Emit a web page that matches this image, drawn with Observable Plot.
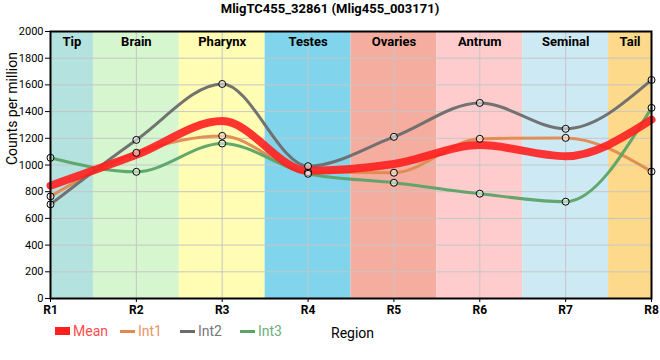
<!DOCTYPE html>
<html>
<head>
<meta charset="utf-8">
<script src="https://cdn.jsdelivr.net/npm/d3@7"></script>
<script src="https://cdn.jsdelivr.net/npm/@observablehq/plot@0.6"></script>
<style>
  html, body { margin: 0; padding: 0; background: #ffffff; }
  body { width: 660px; height: 360px; font-family: Roboto, "Liberation Sans", sans-serif; position: relative; overflow: hidden; }
  #title { height: 22px; line-height: 18px; text-align: center; font-weight: bold; font-size: 13px; color: #000; }
  #chart svg { display: block; }
  #legend { position: relative; height: 30px; font-size: 14px; }
  #legend span { position: absolute; top: 1px; white-space: nowrap; }
  .sw { position: absolute; }
</style>
</head>
<body>
<div id="title">MligTC455_32861 (Mlig455_003171)</div>
<div id="chart"></div>
<div id="legend"></div>
<script>
const regions = ["R1", "R2", "R3", "R4", "R5", "R6", "R7", "R8"];
const tissues = ["Tip", "Brain", "Pharynx", "Testes", "Ovaries", "Antrum", "Seminal", "Tail"];
const tissueColors = ["#b4e2de", "#d6f6cf", "#fefdb3", "#80d5ec", "#f5ada0", "#fecccd", "#cdeaf4", "#fdd98b"];
const meanVals = [845, 1076, 1329, 957, 1007, 1149, 1066, 1339];
const int1 = [765, 1091, 1218, 946, 942, 1196, 1203, 951];
const int2 = [705, 1188, 1607, 991, 1211, 1465, 1271, 1637];
const int3 = [1054, 949, 1161, 934, 867, 785, 725, 1428];
const yTicks = [0, 200, 400, 600, 800, 1000, 1200, 1400, 1600, 1800, 2000];

const seriesNames = ["Mean", "Int1", "Int2", "Int3"];
const seriesColors = ["#ff1f1f", "#e08a50", "#6b6b6b", "#5ba367"];
const legendTextColors = ["#ff4d4d", "#e8955e", "#777777", "#6aaf7a"];

const n = regions.length;
const bands = tissues.map((t, i) => ({
  name: t, color: tissueColors[i],
  x1: Math.max(1, i + 0.5), x2: Math.min(n, i + 1.5)
}));
const mk = (vals) => vals.map((v, i) => ({x: i + 1, y: v}));
const seriesData = [meanVals, int1, int2, int3].map(mk);

const chart = Plot.plot({
  width: 660, height: 300,
  marginLeft: 50, marginRight: 9, marginTop: 9, marginBottom: 24,
  style: {fontFamily: "Roboto, 'Liberation Sans', sans-serif", fontSize: "11px", background: "transparent", color: "black", overflow: "visible"},
  x: {domain: [1, n]},
  y: {domain: [0, 2000]},
  marks: [
    Plot.rect(bands, {x1: "x1", x2: "x2", y1: 0, y2: 2000, fill: "color"}),
    Plot.gridX(d3.range(1, n + 1), {stroke: "#c6c6c6", strokeOpacity: 1}),
    Plot.gridY(yTicks, {stroke: "#c6c6c6", strokeOpacity: 1}),
    Plot.line(seriesData[1], {x: "x", y: "y", stroke: seriesColors[1], strokeWidth: 3, curve: "monotone-x", strokeOpacity: 0.95}),
    Plot.line(seriesData[2], {x: "x", y: "y", stroke: seriesColors[2], strokeWidth: 3, curve: "monotone-x", strokeOpacity: 0.95}),
    Plot.line(seriesData[3], {x: "x", y: "y", stroke: seriesColors[3], strokeWidth: 3, curve: "monotone-x", strokeOpacity: 0.95}),
    Plot.line(seriesData[0], {x: "x", y: "y", stroke: seriesColors[0], strokeWidth: 8, curve: "monotone-x", strokeOpacity: 0.9}),
    Plot.dot([...seriesData[1], ...seriesData[2], ...seriesData[3]], {x: "x", y: "y", r: 3.5, fill: "white", fillOpacity: 0.5, stroke: "black", strokeWidth: 1}),
    Plot.text(bands, {x: d => (d.x1 + d.x2) / 2, y: 2000, text: "name", dy: 10, fontWeight: "bold", fontSize: 13, fill: "black"}),
    Plot.frame({stroke: "black", strokeWidth: 2}),
    Plot.axisX(d3.range(1, n + 1), {tickFormat: d => regions[d - 1], fontWeight: "bold", fontSize: 12, tickSize: 4, tickPadding: 3, label: null}),
    Plot.axisY(yTicks, {tickSize: 5, tickPadding: 2, tickFormat: d => String(d), label: null, fontSize: 11}),
    Plot.text(["Counts per million"], {frameAnchor: "left", rotate: -90, dx: -38, fontSize: 14, fill: "black"})
  ]
});
document.getElementById("chart").appendChild(chart);

const legend = document.getElementById("legend");
const lx = [55, 120, 180, 240];
seriesNames.forEach((s, i) => {
  const sw = document.createElement("div");
  sw.className = "sw";
  sw.style.left = lx[i] + "px";
  sw.style.width = "15px";
  if (i === 0) { sw.style.top = "5px"; sw.style.height = "8px"; }
  else { sw.style.top = "8px"; sw.style.height = "3px"; }
  sw.style.background = seriesColors[i];
  legend.appendChild(sw);
  const t = document.createElement("span");
  t.textContent = s;
  t.style.left = (lx[i] + 18) + "px";
  t.style.color = legendTextColors[i];
  legend.appendChild(t);
});
const rl = document.createElement("span");
rl.textContent = "Region";
rl.style.left = "331px";
rl.style.top = "3px";
rl.style.color = "#000";
legend.appendChild(rl);
</script>
</body>
</html>
